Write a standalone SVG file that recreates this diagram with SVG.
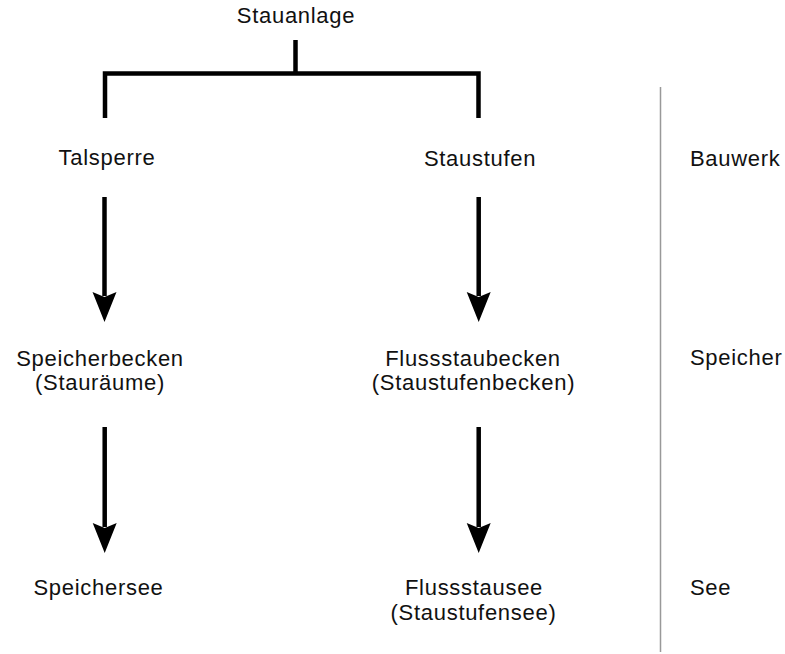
<svg xmlns="http://www.w3.org/2000/svg" width="785" height="654" viewBox="0 0 785 654">
<style>
text{font-family:"Liberation Sans",Arial,sans-serif;font-size:22px;fill:#111;letter-spacing:0.7px}
.m{text-anchor:middle}
.ln{stroke:#000;stroke-width:4.5;fill:none}
.hd{fill:#000}
.sep{stroke:#999;stroke-width:1.5}
</style>
<defs>
<polygon id="ah" class="hd" points="-12,0 0,5 12,0 0,30"/>
</defs>
<rect width="785" height="654" fill="#fff"/>
<g id="connectors">
<path class="ln" d="M295.5,40 V73.5 M105,118 V73.5 H478.5 V118"/>
<line class="ln" x1="104.5" y1="197" x2="104.5" y2="296"/>
<use href="#ah" x="104.5" y="292"/>
<line class="ln" x1="478.7" y1="197" x2="478.7" y2="296"/>
<use href="#ah" x="478.7" y="292"/>
<line class="ln" x1="104.7" y1="427" x2="104.7" y2="527"/>
<use href="#ah" x="104.7" y="523"/>
<line class="ln" x1="478.7" y1="427" x2="478.7" y2="527"/>
<use href="#ah" x="478.7" y="523"/>
<line class="sep" x1="660.5" y1="87" x2="660.5" y2="652"/>
</g>
<g id="stauanlage"><text class="m" x="296" y="23">Stauanlage</text></g>
<g id="talsperre"><text class="m" x="107" y="165">Talsperre</text></g>
<g id="staustufen"><text class="m" x="480" y="166">Staustufen</text></g>
<g id="speicherbecken"><text class="m" x="100" y="366">Speicherbecken</text><text class="m" x="100" y="390">(Stauräume)</text></g>
<g id="flussstaubecken"><text class="m" x="473" y="366">Flussstaubecken</text><text class="m" x="473.5" y="390">(Staustufenbecken)</text></g>
<g id="speichersee"><text class="m" x="98.5" y="595">Speichersee</text></g>
<g id="flussstausee"><text class="m" x="474" y="595">Flussstausee</text><text class="m" x="473.5" y="620">(Staustufensee)</text></g>
<g id="bauwerk"><text x="690" y="166">Bauwerk</text></g>
<g id="speicher"><text x="690" y="365">Speicher</text></g>
<g id="see"><text x="690" y="595">See</text></g>
</svg>
